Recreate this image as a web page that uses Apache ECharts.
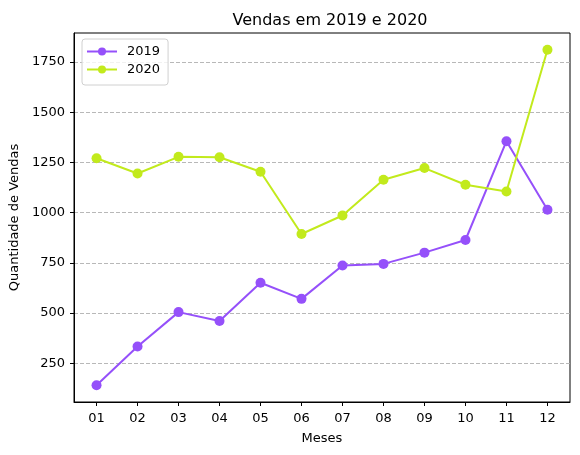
<!DOCTYPE html>
<html>
<head>
<meta charset="utf-8">
<script src="https://cdn.jsdelivr.net/npm/echarts@6/dist/echarts.min.js"></script>
<style>
  html, body { margin: 0; padding: 0; background: #fff; }
  #chart { width: 580px; height: 455px; }
</style>
</head>
<body>
<div id="chart"></div>
<script>
// data
const months = ['01', '02', '03', '04', '05', '06', '07', '08', '09', '10', '11', '12'];
const sales2019 = [141, 334, 505, 461, 651, 571, 737, 745, 801, 864, 1356, 1015];
const sales2020 = [1271, 1195, 1278, 1276, 1204, 894, 986, 1164, 1222, 1139, 1105, 1811];
const yTicks = [250, 500, 750, 1000, 1250, 1500, 1750];
const xTicks = months.map((m, i) => i);

const chart = echarts.init(document.getElementById('chart'));
const font = 'DejaVu Sans';

const toPoints = (arr) => arr.map((v, i) => [i, v]);

const option = {
  backgroundColor: '#fff',
  animation: false,
  textStyle: { fontFamily: font },
  title: {
    text: 'Vendas em 2019 e 2020',
    left: 325,
    top: 8,
    textAlign: 'center',
    textStyle: { fontFamily: font, fontSize: 16, fontWeight: 'normal', color: '#000' }
  },
  legend: {
    left: 82,
    top: 39,
    orient: 'vertical',
    itemWidth: 30,
    itemHeight: 10,
    itemGap: 5,
    padding: [6, 8, 9, 4],
    borderColor: '#d0d0d0',
    borderWidth: 1,
    borderRadius: 3,
    backgroundColor: 'rgba(255,255,255,0.8)',
    textStyle: { fontFamily: font, fontSize: 13, color: '#000', padding: [0, 0, 0, 5] },
    data: ['2019', '2020']
  },
  grid: {
    left: 74, right: 10, top: 33, bottom: 53,
    show: true, borderColor: '#000', borderWidth: 1, backgroundColor: 'transparent'
  },
  xAxis: {
    type: 'value',
    min: -0.55,
    max: 11.55,
    name: 'Meses',
    nameLocation: 'middle',
    nameGap: 30,
    nameTextStyle: { fontFamily: font, fontSize: 13, color: '#000' },
    axisLine: { show: true, onZero: false, lineStyle: { color: '#000', width: 1 } },
    axisTick: { show: true, inside: false, length: 4, lineStyle: { color: '#000' }, customValues: xTicks },
    axisLabel: {
      fontFamily: font, fontSize: 13, color: '#000', margin: 10,
      customValues: xTicks,
      formatter: (v) => months[Math.round(v)]
    },
    splitLine: { show: false }
  },
  yAxis: {
    type: 'value',
    min: 57.5,
    max: 1894.5,
    name: 'Quantidade de Vendas',
    nameLocation: 'middle',
    nameGap: 52,
    nameTextStyle: { fontFamily: font, fontSize: 13, color: '#000' },
    axisLine: { show: true, onZero: false, lineStyle: { color: '#000', width: 1 } },
    axisTick: { show: true, inside: false, length: 4, lineStyle: { color: '#000' }, customValues: yTicks },
    axisLabel: {
      fontFamily: font, fontSize: 13, color: '#000', margin: 9,
      customValues: yTicks,
      formatter: (v) => String(v)
    },
    splitLine: { show: true, lineStyle: { color: '#b0b0b0', type: [4, 2], width: 0.9 } }
  },
  series: [
    {
      name: '2019',
      type: 'line',
      data: toPoints(sales2019),
      symbol: 'circle',
      symbolSize: 10,
      color: '#9550fa',
      lineStyle: { width: 2 }
    },
    {
      name: '2020',
      type: 'line',
      data: toPoints(sales2020),
      symbol: 'circle',
      symbolSize: 10,
      color: '#c2ea1c',
      lineStyle: { width: 2 }
    }
  ]
};

chart.setOption(option);
</script>
</body>
</html>
